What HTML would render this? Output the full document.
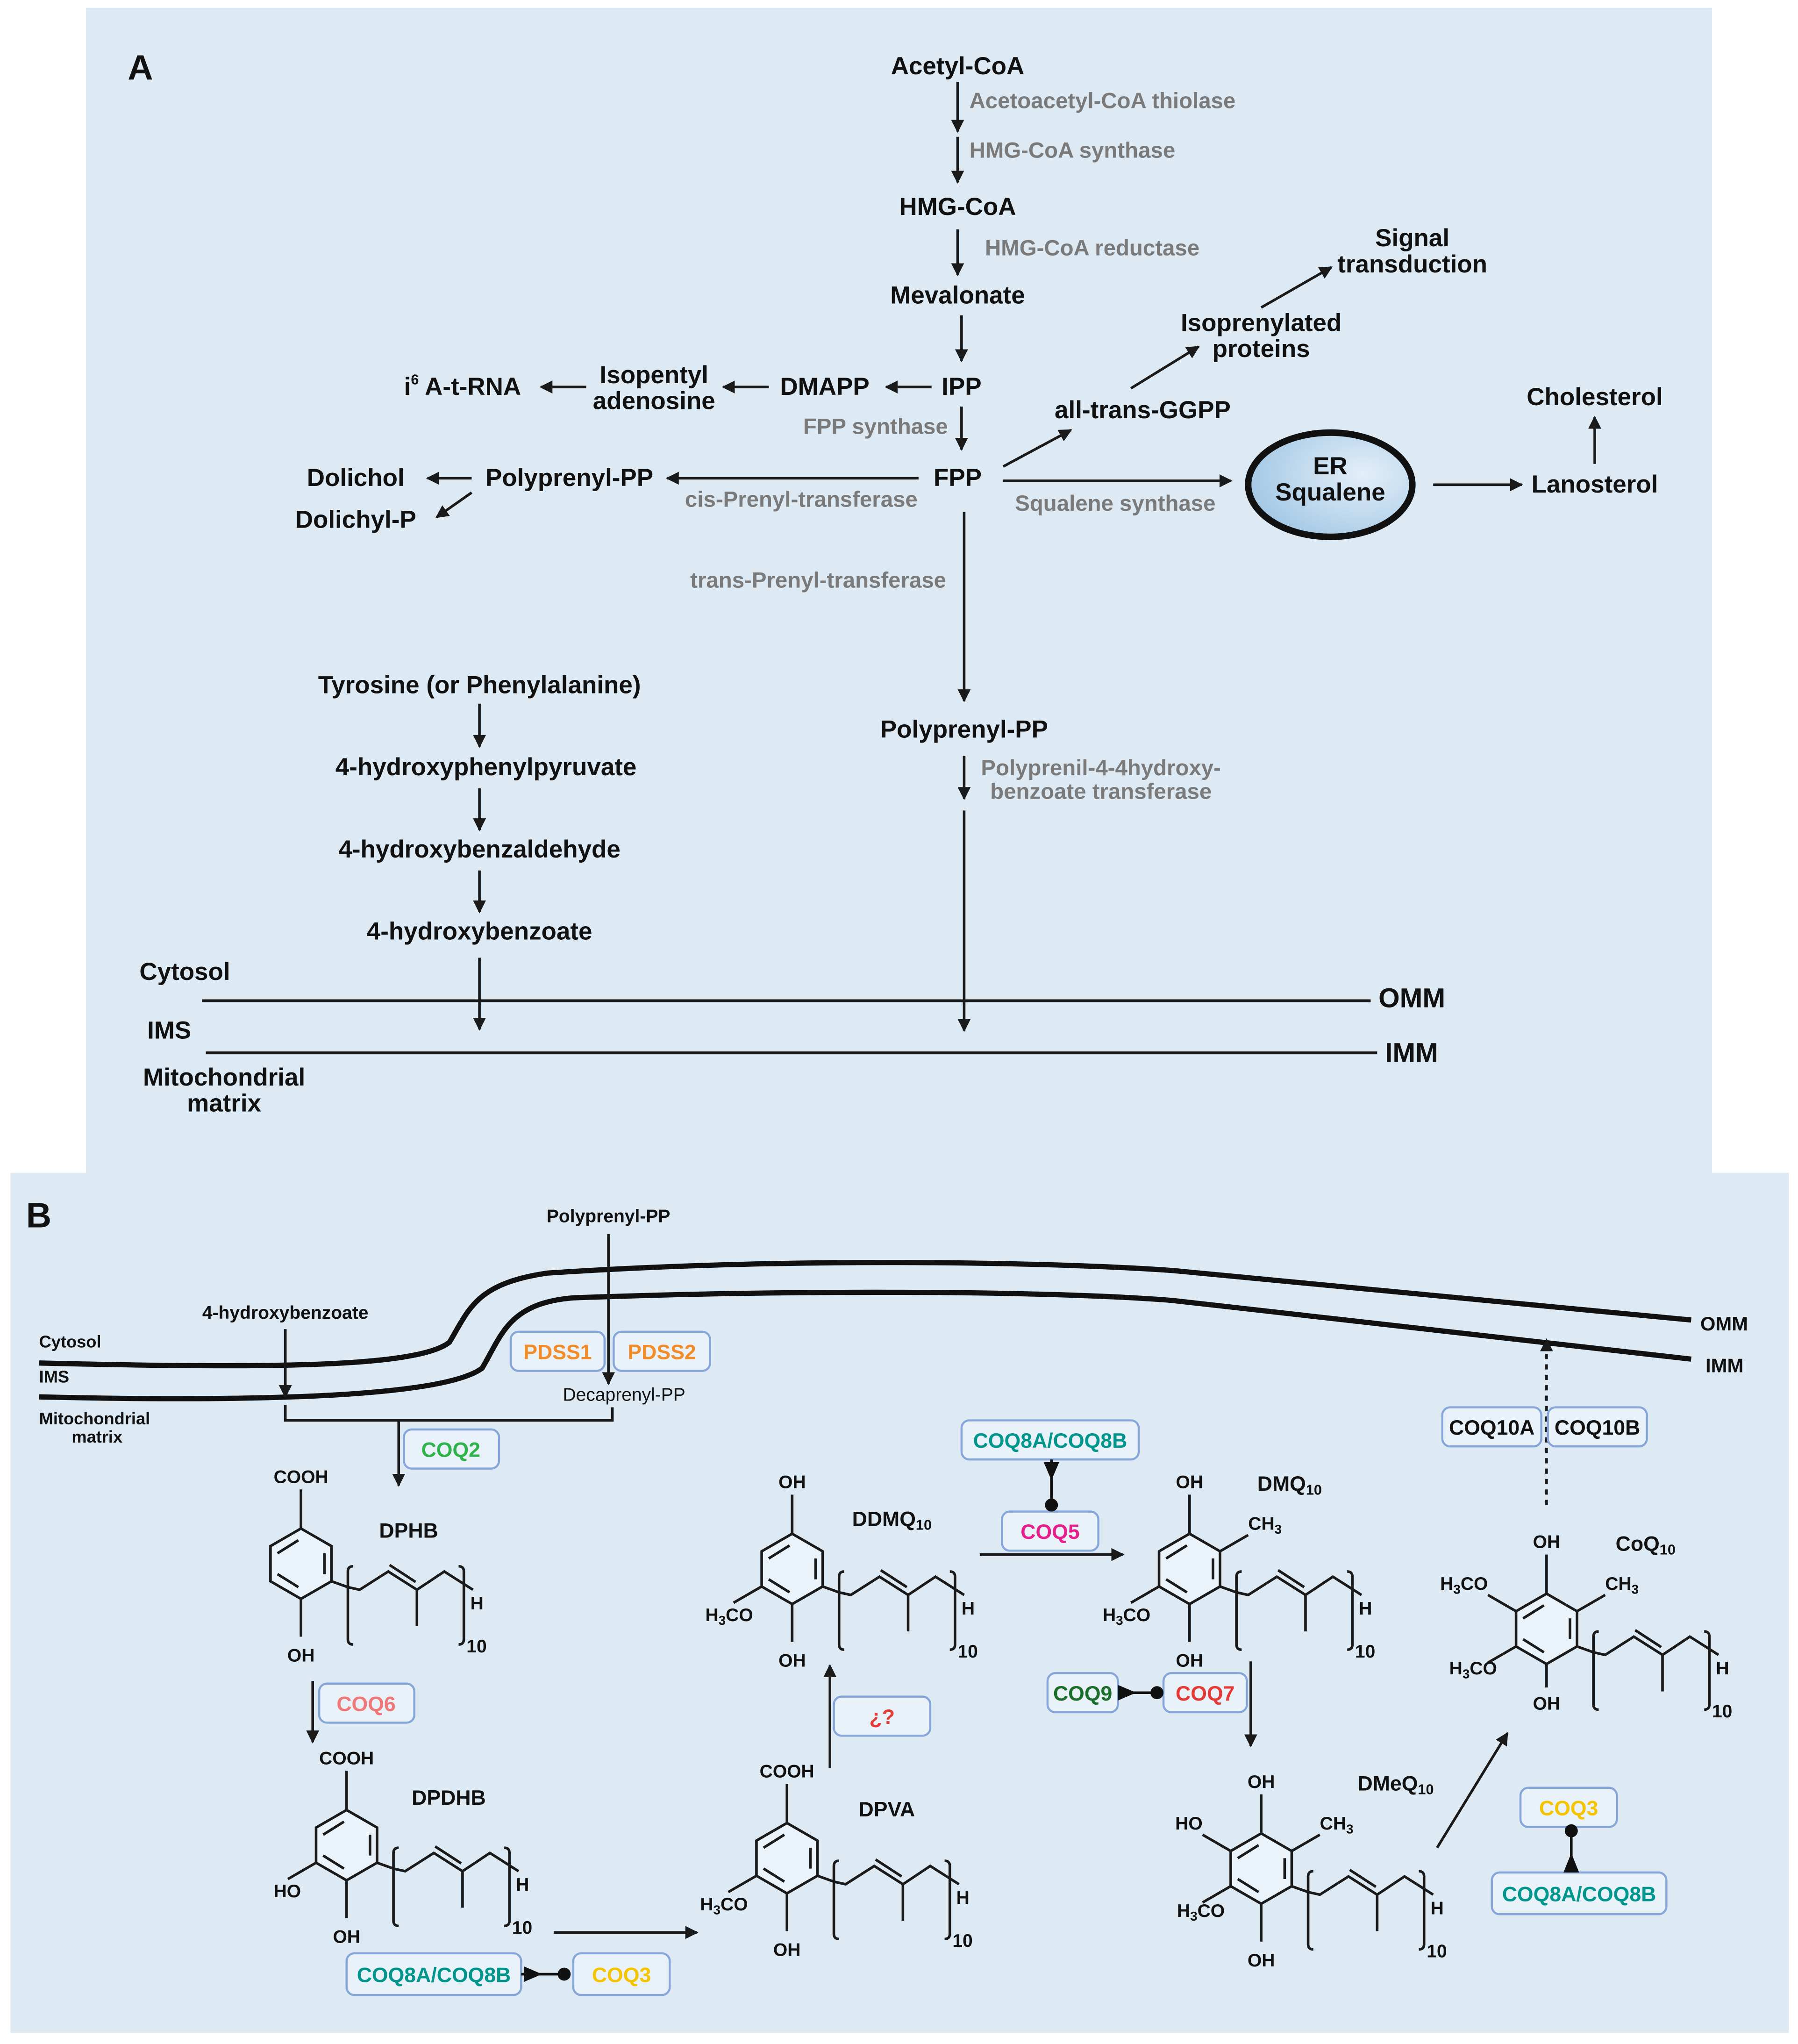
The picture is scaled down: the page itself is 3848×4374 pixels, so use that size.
<!DOCTYPE html>
<html><head><meta charset="utf-8"><style>
html,body{margin:0;padding:0;background:#fff}
svg{display:block}
text{font-family:"Liberation Sans Narrow","Liberation Sans",sans-serif}
.b{font-weight:bold;font-size:19px;fill:#111}
.g{font-weight:bold;font-size:17px;fill:#7a7a7a}
.s{font-weight:bold;font-size:14px;fill:#111}
.m{font-weight:bold;font-size:13px;fill:#111}
.bx{fill:#e9f1f9;stroke:#86a6da;stroke-width:1.6}
.bt{font-weight:bold;font-size:16px;text-anchor:middle}
.l{stroke:#1a1a1a;stroke-width:2;fill:none}
.lab{font-size:16px}
</style></head><body>
<svg width="3848" height="4374" viewBox="0 0 1380 1568.6" preserveAspectRatio="none" xmlns="http://www.w3.org/2000/svg">
<defs>
<marker id="ar" viewBox="0 0 10 10" refX="9" refY="5" markerWidth="5" markerHeight="5" orient="auto-start-reverse"><path d="M0,0L10,5L0,10z" fill="#1a1a1a"/></marker>
<radialGradient id="eg" cx="0.7" cy="0.4" r="0.8"><stop offset="0" stop-color="#e3eff9"/><stop offset="1" stop-color="#9cc3e2"/></radialGradient>
<g id="ring">
<path d="M0,-27L23.4,-13.5L23.4,13.5L0,27L-23.4,13.5L-23.4,-13.5Z" fill="#eaf2fa" stroke="#1a1a1a" stroke-width="2"/>
<path d="M-18,-8L-2,-18M18,-8L18,8M-2,18L-18,8" stroke="#1a1a1a" stroke-width="2"/>
<path d="M23.4,13.5L36,18L45,20L67,6L89,20L110,6L132,20M68,1L88,14M89,20L89,48M40,2Q36,2 36,6L36,58Q36,62 40,62M121,2Q125,2 125,6L125,58Q125,62 121,62" fill="none" stroke="#1a1a1a" stroke-width="2"/>
</g>
</defs>
<rect x="0" y="0" width="1380" height="1569" fill="#fff"/>
<rect x="66" y="6" width="1248" height="894" fill="#ddeaf4"/>
<rect x="8" y="900" width="1365" height="660" fill="#ddeaf4"/>

<!-- Panel A -->
<text x="98" y="61" style="font-weight:bold;font-size:27px" fill="#111">A</text>
<ellipse cx="1021" cy="372" rx="63" ry="40" fill="url(#eg)" stroke="#111" stroke-width="5"/>
<g class="b" text-anchor="middle">
<text x="735" y="57">Acetyl-CoA</text>
<text x="735" y="165">HMG-CoA</text>
<text x="735" y="233">Mevalonate</text>
<text x="738" y="303">IPP</text>
<text x="633" y="303">DMAPP</text>
<text x="502" y="294">Isopentyl</text>
<text x="502" y="314">adenosine</text>
<text x="355" y="303">i<tspan font-size="11" dy="-8">6</tspan><tspan dy="8"> A-t-RNA</tspan></text>
<text x="735" y="373">FPP</text>
<text x="437" y="373">Polyprenyl-PP</text>
<text x="273" y="373">Dolichol</text>
<text x="273" y="405">Dolichyl-P</text>
<text x="877" y="321">all-trans-GGPP</text>
<text x="968" y="254">Isoprenylated</text>
<text x="968" y="274">proteins</text>
<text x="1084" y="189">Signal</text>
<text x="1084" y="209">transduction</text>
<text x="1224" y="311">Cholesterol</text>
<text x="1224" y="378">Lanosterol</text>
<text x="1021" y="364">ER</text>
<text x="1021" y="384">Squalene</text>
<text x="740" y="566">Polyprenyl-PP</text>
<text x="368" y="532">Tyrosine (or Phenylalanine)</text>
<text x="373" y="595">4-hydroxyphenylpyruvate</text>
<text x="368" y="658">4-hydroxybenzaldehyde</text>
<text x="368" y="721">4-hydroxybenzoate</text>
<text x="172" y="833">Mitochondrial</text>
<text x="172" y="853">matrix</text>
</g>
<g class="b"><text x="107" y="752">Cytosol</text><text x="113" y="797">IMS</text>
<text x="1058" y="773" font-size="21">OMM</text><text x="1063" y="815" font-size="21">IMM</text></g>
<g class="g">
<text x="744" y="83">Acetoacetyl-CoA thiolase</text>
<text x="744" y="121">HMG-CoA synthase</text>
<text x="756" y="196">HMG-CoA reductase</text>
<text x="672" y="333" text-anchor="middle">FPP synthase</text>
<text x="615" y="389" text-anchor="middle">cis-Prenyl-transferase</text>
<text x="856" y="392" text-anchor="middle">Squalene synthase</text>
<text x="628" y="451" text-anchor="middle">trans-Prenyl-transferase</text>
<text x="845" y="595" text-anchor="middle">Polyprenil-4-4hydroxy-</text>
<text x="845" y="613" text-anchor="middle">benzoate transferase</text>
</g>
<g class="l" marker-end="url(#ar)" stroke-width="2.4">
<path d="M735,63V101"/><path d="M735,105V140"/><path d="M735,176V211"/>
<path d="M738,242V277"/><path d="M738,312V345"/>
<path d="M715,297H680"/><path d="M590,297H555"/><path d="M450,297H415"/>
<path d="M705,367H512"/><path d="M362,367H328"/><path d="M362,378L335,397"/>
<path d="M770,358L822,330"/><path d="M868,298L920,266"/><path d="M968,236L1022,205"/>
<path d="M770,369H945"/><path d="M1100,372H1168"/><path d="M1224,356V320"/>
<path d="M740,393V538"/><path d="M740,580V613"/><path d="M740,622V791"/>
<path d="M368,540V573"/><path d="M368,605V637"/><path d="M368,668V700"/><path d="M368,735V790"/>
</g>
<path d="M155,768H1052M158,808H1057" stroke="#1a1a1a" stroke-width="2.2"/>

<!-- Panel B -->
<text x="20" y="942" style="font-weight:bold;font-size:27px" fill="#111">B</text>
<path d="M30,1046C200,1050 320,1050 345,1030C360,1005 365,985 420,977C600,965 800,968 900,975L1298,1013" fill="none" stroke="#111" stroke-width="4"/>
<path d="M30,1072C200,1076 340,1072 370,1050C385,1025 390,1000 440,996C600,990 800,990 900,998L1298,1043" fill="none" stroke="#111" stroke-width="4"/>
<g class="m"><text x="30" y="1034">Cytosol</text><text x="30" y="1061">IMS</text><text x="30" y="1093">Mitochondrial</text><text x="55" y="1107">matrix</text></g>
<g class="s"><text x="1305" y="1021" font-size="15">OMM</text><text x="1309" y="1053" font-size="15">IMM</text>
<text x="467" y="938" text-anchor="middle">Polyprenyl-PP</text><text x="219" y="1012" text-anchor="middle">4-hydroxybenzoate</text>
<text x="479" y="1075" text-anchor="middle" font-weight="normal">Decaprenyl-PP</text></g>
<g class="l" marker-end="url(#ar)">
<path d="M467,947V1062"/><path d="M219,1020V1072"/><path d="M306,1090V1140"/>
<path d="M240,1290V1337"/><path d="M425,1483H535"/><path d="M637,1357V1278"/>
<path d="M752,1193H862"/><path d="M960,1275V1340"/><path d="M1103,1418L1157,1330"/>
<path d="M1187,1155V1028" stroke-dasharray="4,4"/>
</g>
<path d="M219,1078V1090H470V1080" class="l"/>
<!-- boxes -->
<rect class="bx" x="392" y="1022" width="72" height="30" rx="6"/><text class="bt" x="428" y="1043" fill="#f28c28">PDSS1</text>
<rect class="bx" x="471" y="1022" width="74" height="30" rx="6"/><text class="bt" x="508" y="1043" fill="#f28c28">PDSS2</text>
<rect class="bx" x="310" y="1097" width="73" height="30" rx="6"/><text class="bt" x="346" y="1118" fill="#2db34a">COQ2</text>
<rect class="bx" x="245" y="1292" width="73" height="30" rx="6"/><text class="bt" x="281" y="1313" fill="#f07878">COQ6</text>
<rect class="bx" x="266" y="1499" width="134" height="32" rx="6"/><text class="bt" x="333" y="1521" fill="#00968c">COQ8A/COQ8B</text>
<rect class="bx" x="440" y="1499" width="74" height="32" rx="6"/><text class="bt" x="477" y="1521" fill="#f5c400">COQ3</text>
<path d="M400,1515H432" stroke="#111" stroke-width="2"/><path d="M402,1509L416,1515L402,1521z" fill="#111"/><circle cx="433" cy="1515" r="5" fill="#111"/>
<rect class="bx" x="640" y="1302" width="74" height="30" rx="6"/><text class="bt" x="677" y="1323" fill="#e53935">¿?</text>
<rect class="bx" x="738" y="1090" width="136" height="30" rx="6"/><text class="bt" x="806" y="1111" fill="#00968c">COQ8A/COQ8B</text>
<rect class="bx" x="769" y="1160" width="74" height="30" rx="6"/><text class="bt" x="806" y="1181" fill="#e91e8c">COQ5</text>
<path d="M807,1120V1155" stroke="#111" stroke-width="2"/><path d="M801,1122L807,1136L813,1122z" fill="#111"/><circle cx="807" cy="1155" r="5" fill="#111"/>
<rect class="bx" x="804" y="1284" width="54" height="30" rx="6"/><text class="bt" x="831" y="1305" fill="#1b6e2a">COQ9</text>
<rect class="bx" x="893" y="1284" width="64" height="30" rx="6"/><text class="bt" x="925" y="1305" fill="#e53935">COQ7</text>
<path d="M858,1299H888" stroke="#111" stroke-width="2"/><path d="M858,1293L872,1299L858,1305z" fill="#111"/><circle cx="888" cy="1299" r="5" fill="#111"/>
<rect class="bx" x="1167" y="1372" width="74" height="30" rx="6"/><text class="bt" x="1204" y="1393" fill="#f5c400">COQ3</text>
<rect class="bx" x="1145" y="1437" width="134" height="32" rx="6"/><text class="bt" x="1212" y="1459" fill="#00968c">COQ8A/COQ8B</text>
<path d="M1206,1402V1437" stroke="#111" stroke-width="2"/><path d="M1200,1437L1206,1422L1212,1437z" fill="#111"/><circle cx="1206" cy="1405" r="5" fill="#111"/>
<rect class="bx" x="1107" y="1080" width="76" height="30" rx="6"/><text class="bt" x="1145" y="1101" fill="#111">COQ10A</text>
<rect class="bx" x="1188" y="1080" width="76" height="30" rx="6"/><text class="bt" x="1226" y="1101" fill="#111">COQ10B</text>

<!-- molecules -->
<g class="s">
<g transform="translate(231,1200)"><use href="#ring"/><path d="M0,-27V-57M0,27V56" class="l"/>
<text x="0" y="-62" text-anchor="middle">COOH</text><text x="0" y="75" text-anchor="middle">OH</text>
<text x="130" y="35">H</text><text x="127" y="68">10</text><text x="60" y="-20" class="lab">DPHB</text></g>
<g transform="translate(266,1416)"><use href="#ring"/><path d="M0,-27V-57M0,27V56M-23.4,13.5L-45,26" class="l"/>
<text x="0" y="-62" text-anchor="middle">COOH</text><text x="0" y="75" text-anchor="middle">OH</text><text x="-35" y="40" text-anchor="end">HO</text>
<text x="130" y="35">H</text><text x="127" y="68">10</text><text x="50" y="-31" class="lab">DPDHB</text></g>
<g transform="translate(604,1426)"><use href="#ring"/><path d="M0,-27V-57M0,27V56M-23.4,13.5L-45,26" class="l"/>
<text x="0" y="-62" text-anchor="middle">COOH</text><text x="0" y="75" text-anchor="middle">OH</text><text x="-30" y="40" text-anchor="end">H<tspan font-size="10" dy="3">3</tspan><tspan dy="-3">CO</tspan></text>
<text x="130" y="35">H</text><text x="127" y="68">10</text><text x="55" y="-32" class="lab">DPVA</text></g>
<g transform="translate(608,1204)"><use href="#ring"/><path d="M0,-27V-57M0,27V56M-23.4,13.5L-45,26" class="l"/>
<text x="0" y="-62" text-anchor="middle">OH</text><text x="0" y="75" text-anchor="middle">OH</text><text x="-30" y="40" text-anchor="end">H<tspan font-size="10" dy="3">3</tspan><tspan dy="-3">CO</tspan></text>
<text x="130" y="35">H</text><text x="127" y="68">10</text><text x="46" y="-33" class="lab">DDMQ<tspan font-size="11" dy="3">10</tspan></text></g>
<g transform="translate(913,1204)"><use href="#ring"/><path d="M0,-27V-57M0,27V56M-23.4,13.5L-45,26M23.4,-13.5L45,-26" class="l"/>
<text x="0" y="-62" text-anchor="middle">OH</text><text x="0" y="75" text-anchor="middle">OH</text><text x="-30" y="40" text-anchor="end">H<tspan font-size="10" dy="3">3</tspan><tspan dy="-3">CO</tspan></text>
<text x="45" y="-30">CH<tspan font-size="10" dy="3">3</tspan></text>
<text x="130" y="35">H</text><text x="127" y="68">10</text><text x="52" y="-60" class="lab">DMQ<tspan font-size="11" dy="3">10</tspan></text></g>
<g transform="translate(968,1434)"><use href="#ring"/><path d="M0,-27V-57M0,27V56M-23.4,13.5L-45,26M23.4,-13.5L45,-26M-23.4,-13.5L-45,-26" class="l"/>
<text x="0" y="-62" text-anchor="middle">OH</text><text x="0" y="75" text-anchor="middle">OH</text><text x="-28" y="37" text-anchor="end">H<tspan font-size="10" dy="3">3</tspan><tspan dy="-3">CO</tspan></text>
<text x="45" y="-30">CH<tspan font-size="10" dy="3">3</tspan></text><text x="-45" y="-30" text-anchor="end">HO</text>
<text x="130" y="35">H</text><text x="127" y="68">10</text><text x="74" y="-60" class="lab">DMeQ<tspan font-size="11" dy="3">10</tspan></text></g>
<g transform="translate(1187,1250)"><use href="#ring"/><path d="M0,-27V-57M0,27V45M-23.4,13.5L-45,26M23.4,-13.5L45,-26M-23.4,-13.5L-45,-26" class="l"/>
<text x="0" y="-62" text-anchor="middle">OH</text><text x="0" y="62" text-anchor="middle">OH</text>
<text x="-38" y="35" text-anchor="end">H<tspan font-size="10" dy="3">3</tspan><tspan dy="-3">CO</tspan></text>
<text x="45" y="-30">CH<tspan font-size="10" dy="3">3</tspan></text><text x="-45" y="-30" text-anchor="end">H<tspan font-size="10" dy="3">3</tspan><tspan dy="-3">CO</tspan></text>
<text x="130" y="35">H</text><text x="127" y="68">10</text><text x="53" y="-60" class="lab">CoQ<tspan font-size="11" dy="3">10</tspan></text></g>
</g>
</svg>
</body></html>
